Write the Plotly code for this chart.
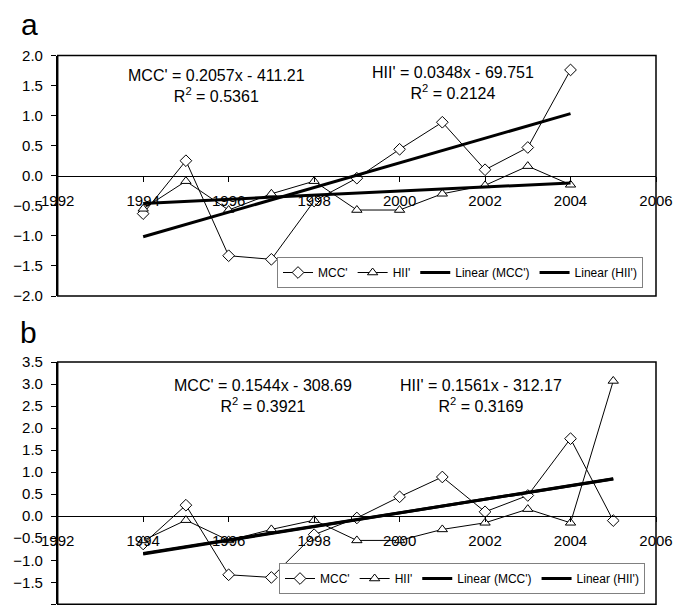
import numpy as np
import plotly.graph_objects as go

# ---------------- data ----------------
years_a = [1994, 1995, 1996, 1997, 1998, 1999, 2000, 2001, 2002, 2003, 2004]
mcc_a = [-0.63, 0.25, -1.33, -1.39, -0.42, -0.04, 0.44, 0.89, 0.10, 0.47, 1.76]
hii_a = [-0.55, -0.09, -0.57, -0.30, -0.09, -0.57, -0.57, -0.30, -0.16, 0.16, -0.15]

years_b = [1994, 1995, 1996, 1997, 1998, 1999, 2000, 2001, 2002, 2003, 2004, 2005]
mcc_b = [-0.63, 0.25, -1.33, -1.39, -0.42, -0.04, 0.44, 0.89, 0.10, 0.47, 1.76, -0.10]
hii_b = [-0.55, -0.09, -0.55, -0.30, -0.09, -0.55, -0.55, -0.30, -0.15, 0.16, -0.15, 3.07]

eq_a = ["MCC' = 0.2057x - 411.21<br>R<sup>2</sup> = 0.5361",
        "HII' = 0.0348x - 69.751<br>R<sup>2</sup> = 0.2124"]
eq_b = ["MCC' = 0.1544x - 308.69<br>R<sup>2</sup> = 0.3921",
        "HII' = 0.1561x - 312.17<br>R<sup>2</sup> = 0.3169"]

x_range = [1992, 2006]
y_range_a = [-2.0, 2.0]
y_range_b = [-2.0, 3.5]

FONT = "Liberation Sans, Arial, sans-serif"
# page body has an 8px default margin; the figure is sized to fill the rest
OFF = 8
W, H = 686 - OFF, 609 - OFF

xdom = [(57.7 - OFF) / W, (656 - OFF) / W]
ydom_a = [1 - (296 - OFF) / H, 1 - (55.5 - OFF) / H]
ydom_b = [1 - (604.3 - OFF) / H, 1 - (362 - OFF) / H]


def zero_pos(dom, rng):
    return dom[0] + (0 - rng[0]) / (rng[1] - rng[0]) * (dom[1] - dom[0])


def trend(years, vals):
    k, b = np.polyfit(years, vals, 1)
    xs = [years[0], years[-1]]
    return xs, [k * x + b for x in xs]


fig = go.Figure()


def add_panel(years, mcc, hii, xa, ya, legend):
    fig.add_trace(go.Scatter(x=years, y=mcc, mode="lines+markers", name="MCC'",
                             line=dict(color="black", width=1),
                             marker=dict(symbol="diamond", size=9, color="white",
                                         line=dict(color="black", width=1)),
                             xaxis=xa, yaxis=ya, legend=legend))
    fig.add_trace(go.Scatter(x=years, y=hii, mode="lines+markers", name="HII'",
                             line=dict(color="black", width=1),
                             marker=dict(symbol="triangle-up", size=9, color="white",
                                         line=dict(color="black", width=1)),
                             xaxis=xa, yaxis=ya, legend=legend))
    tx, ty = trend(years, mcc)
    fig.add_trace(go.Scatter(x=tx, y=ty, mode="lines", name="Linear (MCC')",
                             line=dict(color="black", width=3),
                             xaxis=xa, yaxis=ya, legend=legend))
    tx, ty = trend(years, hii)
    fig.add_trace(go.Scatter(x=tx, y=ty, mode="lines", name="Linear (HII')",
                             line=dict(color="black", width=3),
                             xaxis=xa, yaxis=ya, legend=legend))


add_panel(years_a, mcc_a, hii_a, "x", "y", "legend")
add_panel(years_b, mcc_b, hii_b, "x2", "y2", "legend2")

tickfont = dict(family=FONT, size=15, color="black")

xcommon = dict(range=x_range, dtick=2, tick0=1992, showgrid=False, zeroline=False,
               showline=True, linecolor="black", linewidth=1, ticks="outside",
               ticklen=5, tickcolor="black", tickfont=tickfont, domain=xdom,
               anchor="free", ticklabelstandoff=6, automargin=False)
ycommon = dict(dtick=0.5, tickformat=".1f", showgrid=False, zeroline=False,
               showline=True, linecolor="black", linewidth=1.5, ticks="outside",
               ticklen=5, tickcolor="black", tickfont=tickfont,
               ticklabelstandoff=5, automargin=False)

legend_common = dict(orientation="h", bgcolor="white", bordercolor="#808080",
                     borderwidth=1, font=dict(family=FONT, size=12, color="black"),
                     xanchor="right", yanchor="bottom", itemwidth=30,
                     tracegroupgap=0)

fig.update_layout(
    width=W, height=H,
    margin=dict(l=0, r=0, t=0, b=0, autoexpand=False),
    paper_bgcolor="white", plot_bgcolor="white",
    font=dict(family=FONT, color="black"),
    xaxis=dict(xcommon, position=zero_pos(ydom_a, y_range_a)),
    yaxis=dict(ycommon, range=y_range_a, domain=ydom_a, anchor="x"),
    xaxis2=dict(xcommon, position=zero_pos(ydom_b, y_range_b)),
    yaxis2=dict(ycommon, range=y_range_b, domain=ydom_b, anchor="x2"),
    legend=dict(legend_common, x=(643 - OFF) / W, y=1 - (288 - OFF) / H),
    legend2=dict(legend_common, x=(645 - OFF) / W, y=1 - (594 - OFF) / H),
    showlegend=True,
)

# plot frames
for xr, yr in [("x domain", "y domain"), ("x2 domain", "y2 domain")]:
    fig.add_shape(type="rect", xref=xr, yref=yr, x0=0, x1=1, y0=0, y1=1,
                  line=dict(color="black", width=1.5), layer="above")

annfont = dict(family=FONT, size=16, color="black")
ann = []
ann.append(dict(x=1995.72, y=1.49, xref="x", yref="y", text=eq_a[0]))
ann.append(dict(x=2001.25, y=1.54, xref="x", yref="y", text=eq_a[1]))
ann.append(dict(x=1996.8, y=2.73, xref="x2", yref="y2", text=eq_b[0]))
ann.append(dict(x=2001.9, y=2.73, xref="x2", yref="y2", text=eq_b[1]))
for a in ann:
    fig.add_annotation(**a, showarrow=False, font=annfont, align="center",
                       xanchor="center", yanchor="middle")

# panel letters
fig.add_annotation(x=11 / W, y=1 - 16.5 / H, xref="paper", yref="paper", text="a",
                   showarrow=False, font=dict(family=FONT, size=30, color="black"),
                   xanchor="left", yanchor="middle")
fig.add_annotation(x=10 / W, y=1 - 324 / H, xref="paper", yref="paper", text="b",
                   showarrow=False, font=dict(family=FONT, size=30, color="black"),
                   xanchor="left", yanchor="middle")

fig.write_html("out.html")
